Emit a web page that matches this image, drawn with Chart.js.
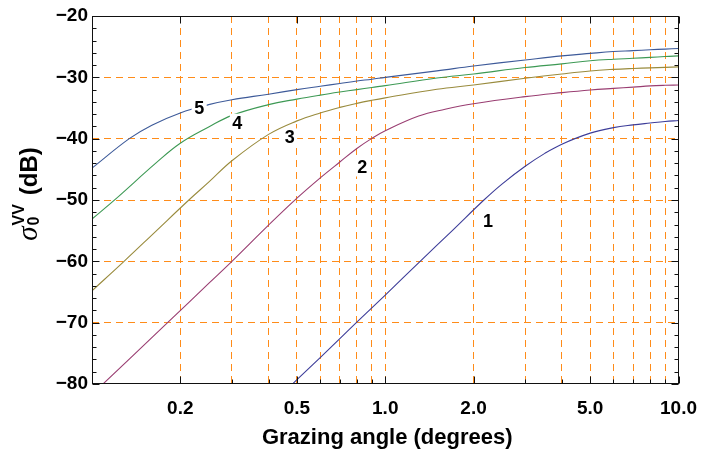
<!DOCTYPE html>
<html><head><meta charset="utf-8">
<script src="https://cdn.jsdelivr.net/npm/chart.js@4.4.1/dist/chart.umd.min.js"></script>
<style>html,body{margin:0;padding:0;background:#fff;}canvas{display:block;}</style>
</head><body>
<canvas id="c" width="710" height="450" style="width:710px;height:450px"></canvas>
<script>
// ---- data (grazing angle in degrees, sigma0 VV in dB) ----
const seriesNames = ['1', '2', '3', '4', '5'];
const x1 = [0.45, 0.5, 0.6, 0.7, 0.8, 1.0, 1.315, 1.7, 2.17, 2.5, 3, 3.5, 4, 5, 6, 7, 8, 9, 10];
const y1 = [-81.4, -79.3, -75.7, -72.6, -69.9, -65.5, -60.0, -54.9, -50.0, -47.4, -44.5, -42.4, -40.9, -39.1, -38.2, -37.75, -37.45, -37.2, -37.05];
const x2 = [0.1, 0.181, 0.25, 0.3, 0.4, 0.5, 0.6, 0.7, 0.8, 0.9, 1.0, 1.3, 1.6, 2, 3, 4, 5, 6, 7, 8, 9, 10];
const y2 = [-81.7, -70.0, -63.6, -60.0, -54.1, -49.7, -46.4, -43.8, -41.6, -39.95, -38.7, -36.3, -35.2, -34.3, -33.15, -32.5, -32.06, -31.8, -31.6, -31.4, -31.3, -31.25];
const x3 = [0.1, 0.1286, 0.165, 0.214, 0.25, 0.3, 0.4, 0.5, 0.6, 0.7, 0.8, 0.9, 1.0, 1.5, 2, 3, 4, 5, 6, 7, 8, 9, 10];
const y3 = [-64.8, -60.0, -55.1, -50.0, -47.1, -43.6, -39.3, -37.1, -35.8, -34.9, -34.25, -33.75, -33.35, -31.95, -31.25, -30.15, -29.45, -28.96, -28.7, -28.55, -28.45, -28.38, -28.3];
const x4 = [0.1, 0.12, 0.165, 0.2, 0.25, 0.3, 0.4, 0.5, 0.6, 0.7, 0.8, 0.9, 1.0, 1.5, 2, 3, 4, 5, 6, 7, 8, 9, 10];
const y4 = [-53.1, -49.9, -44.0, -40.75, -38.1, -36.2, -34.45, -33.55, -32.9, -32.4, -32.0, -31.65, -31.35, -30.1, -29.45, -28.4, -27.8, -27.3, -27.05, -26.9, -26.75, -26.6, -26.5];
const x5 = [0.1, 0.134, 0.16, 0.2, 0.25, 0.3, 0.4, 0.5, 0.6, 0.7, 0.8, 0.9, 1.0, 1.5, 2, 3, 4, 5, 6, 7, 8, 9, 10];
const y5 = [-44.8, -40.0, -37.8, -35.8, -34.45, -33.65, -32.75, -32.0, -31.45, -31.0, -30.6, -30.3, -30.0, -28.95, -28.15, -27.17, -26.5, -26.1, -25.8, -25.65, -25.5, -25.4, -25.3];
const seriesX = [x1, x2, x3, x4, x5];
const seriesY = [y1, y2, y3, y4, y5];
// curve label anchors (data units)
const labelX = [2.24, 0.835, 0.472, 0.313, 0.232];
const labelY = [-53.5, -44.7, -39.8, -37.4, -35.0];
// axis ticks
const xGrid = [0.1, 0.2, 0.3, 0.4, 0.5, 0.6, 0.7, 0.8, 0.9, 1, 2, 3, 4, 5, 6, 7, 8, 9, 10];
const xMajor = [0.2, 0.5, 1, 2, 5, 10];
const xLabels = ['0.2', '0.5', '1.0', '2.0', '5.0', '10.0'];
const yTicks = [-80, -70, -60, -50, -40, -30, -20];
const yLabels = ['\u221280', '\u221270', '\u221260', '\u221250', '\u221240', '\u221230', '\u221220'];
const yMinorStep = 2;

// ---- styles ----
const colors = ['rgb(61,61,153)', 'rgb(153,61,113)', 'rgb(153,139,61)', 'rgb(61,153,84)', 'rgb(61,90,153)'];
const ORANGE = 'rgb(255,140,25)';
const SANS = '"Liberation Sans", Arial, Helvetica, sans-serif';
const near = (a, b) => Math.abs(a - b) < 1e-9 * Math.max(1, Math.abs(b));

const datasets = seriesX.map((xs, i) => ({
  label: seriesNames[i],
  data: xs.map((x, j) => ({ x: x, y: seriesY[i][j] })),
  borderColor: colors[i],
  borderWidth: 1.1,
  pointRadius: 0,
  fill: false,
  tension: 0.4
}));

const framePlugin = {
  id: 'frame',
  afterDraw(chart) {
    const { ctx, chartArea: a, scales } = chart;
    const L = Math.round(a.left) + 0.5, R = Math.round(a.right) - 0.5;
    const T = Math.round(a.top) + 0.5, B = Math.round(a.bottom) - 0.5;
    ctx.save();
    ctx.strokeStyle = '#111';
    ctx.lineWidth = 1;
    ctx.beginPath();
    for (let v = -80; v <= -20; v += yMinorStep) {
      const y = Math.round(scales.y.getPixelForValue(v)) + 0.5;
      const len = (v % 10 === 0) ? 7 : 4;
      ctx.moveTo(L, y); ctx.lineTo(L + len, y);
      ctx.moveTo(R, y); ctx.lineTo(R - len, y);
    }
    xGrid.forEach(v => {
      const x = Math.round(scales.x.getPixelForValue(v)) + 0.5;
      const major = xMajor.some(m => near(m, v));
      const len = major ? 7 : 4;
      ctx.moveTo(x, B); ctx.lineTo(x, B - len);
      if (major) { ctx.moveTo(x, T); ctx.lineTo(x, T + len); }
    });
    ctx.stroke();
    ctx.strokeRect(L, T, R - L, B - T);
    ctx.restore();
  }
};

const labelPlugin = {
  id: 'curveLabels',
  afterDatasetsDraw(chart) {
    const { ctx, scales } = chart;
    ctx.save();
    ctx.font = 'bold 18px ' + SANS;
    ctx.textAlign = 'center';
    ctx.textBaseline = 'middle';
    seriesNames.forEach((n, i) => {
      const px = scales.x.getPixelForValue(labelX[i]);
      const py = scales.y.getPixelForValue(labelY[i]);
      const w = ctx.measureText(n).width + 5;
      ctx.fillStyle = '#fff';
      ctx.fillRect(px - w / 2, py - 9, w, 18);
      ctx.fillStyle = '#000';
      ctx.fillText(n, px, py + 1);
    });
    ctx.restore();
  }
};

const titlePlugin = {
  id: 'axisTitles',
  afterDraw(chart) {
    const { ctx, chartArea: a } = chart;
    ctx.save();
    ctx.fillStyle = '#000';
    ctx.font = 'bold 22px ' + SANS;
    ctx.textAlign = 'center';
    ctx.textBaseline = 'alphabetic';
    ctx.fillText('Grazing angle (degrees)', (a.left + a.right) / 2 + 2, 444);
    const fSig = 'italic 29px "Liberation Serif", "Times New Roman", serif';
    const fScr = 'bold 16px ' + SANS;
    const fMain = 'bold 24px ' + SANS;
    ctx.font = fSig; const wS = ctx.measureText('\u03c3').width;
    ctx.font = fScr; const wV = ctx.measureText('VV').width; const w0 = ctx.measureText('0').width;
    ctx.font = fMain; const wD = ctx.measureText('(dB)').width;
    const gap = 9;
    const W = wS + 1 + Math.max(wV, w0) + gap + wD;
    const centerY = 194;
    ctx.translate(37, 0);
    ctx.rotate(-Math.PI / 2);
    ctx.textAlign = 'left';
    let u = -(centerY + W / 2);
    ctx.font = fSig; ctx.fillText('\u03c3', u, 0);
    u += wS + 1;
    ctx.font = fScr; ctx.fillText('VV', u, -13); ctx.fillText('0', u, 2);
    u += Math.max(wV, w0) + gap;
    ctx.font = fMain; ctx.fillText('(dB)', u, 0);
    ctx.restore();
  }
};

new Chart(document.getElementById('c').getContext('2d'), {
  type: 'line',
  data: { datasets },
  options: {
    responsive: false,
    animation: false,
    devicePixelRatio: 1,
    layout: { padding: { top: 16, right: 23, left: 0, bottom: 0 } },
    plugins: { legend: { display: false }, tooltip: { enabled: false } },
    scales: {
      x: {
        type: 'logarithmic', min: 0.1, max: 10,
        afterBuildTicks: s => { s.ticks = xGrid.map(v => ({ value: v })); },
        afterFit: s => { s.height = 66; },
        ticks: {
          autoSkip: false, maxRotation: 0, minRotation: 0, padding: 13, color: '#000',
          font: { family: SANS, size: 19, weight: 'bold' },
          callback: v => { const i = xMajor.findIndex(m => near(m, v)); return i >= 0 ? xLabels[i] : ''; }
        },
        grid: {
          color: c => (near(c.tick.value, 0.1) || near(c.tick.value, 10)) ? 'rgba(0,0,0,0)' : ORANGE,
          lineWidth: 1, drawTicks: false
        },
        border: { display: false, dash: [7, 5] }
      },
      y: {
        type: 'linear', min: -80, max: -20,
        afterBuildTicks: s => { s.ticks = yTicks.map(v => ({ value: v })); },
        afterFit: s => { s.width = 92; },
        ticks: {
          padding: 4, color: '#000',
          font: { family: SANS, size: 19, weight: 'bold' },
          callback: v => { const i = yTicks.findIndex(t => near(t, v)); return i >= 0 ? yLabels[i] : ''; }
        },
        grid: {
          color: c => (c.tick.value === -80 || c.tick.value === -20) ? 'rgba(0,0,0,0)' : ORANGE,
          lineWidth: 1, drawTicks: false
        },
        border: { display: false, dash: [7, 5] }
      }
    }
  },
  plugins: [framePlugin, labelPlugin, titlePlugin]
});
</script>
</body></html>
